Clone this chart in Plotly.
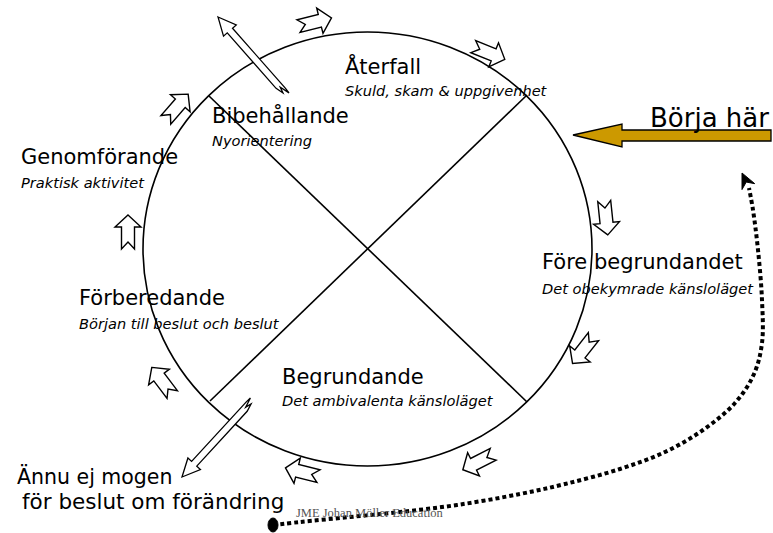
import math
import plotly.graph_objects as go

# ---------------- content ----------------
stage_titles = ["Återfall", "Bibehållande", "Genomförande", "Förberedande",
                "Begrundande", "Före begrundandet"]
stage_subtitles = ["Skuld, skam & uppgivenhet", "Nyorientering", "Praktisk aktivitet",
                   "Början till beslut och beslut", "Det ambivalenta känsloläget",
                   "Det obekymrade känsloläget"]
start_label = "Börja här"
exit_label = ["Ännu ej mogen", "för beslut om förändring"]
credit = "JME Johan Möller Education"

# ---------------- layout geometry (pixels) ----------------
W, H = 773, 533
FONT = "DejaVu Sans, Verdana, sans-serif"

title_pos = [(343, 66), (210, 115), (19, 157), (77, 298), (280, 377), (540, 262)]
sub_pos = [(343, 90), (210, 140), (19, 182), (77, 323), (280, 400), (540, 288)]

ellipse = dict(x0=143, x1=592, y0=32, y1=466)
chords = [((209, 96), (527, 402)), ((527, 95), (210, 401))]

# small hollow notched arrows around the circle: centre x, centre y, angle (deg, screen)
cycle_arrows = [(315, 22, -14), (489, 53, 22), (606, 218, 84), (583, 350, 128),
                (478, 462, 153), (302, 472, 194), (162, 381, 233), (128, 232, 270),
                (177, 107, 311)]

# long thin arrows (tail -> tip)
long_arrows = [((284, 92), (218, 17)), ((250, 403), (182, 477))]

# dotted return path
dotted_x = [273, 300, 350, 400, 457, 520, 565, 620, 665, 703, 735, 754, 762, 762, 758, 753, 749]
dotted_y = [525, 522, 517, 512, 505, 494, 484, 469, 452, 430, 403, 374, 343, 300, 250, 210, 188]


def to_path(pts):
    return "M " + " L ".join(f"{x:.2f},{y:.2f}" for x, y in pts) + " Z"


def block_arrow(cx, cy, ang, L=34, Wd=13, w=6.5, hl=12, notch=7):
    a = math.radians(ang)
    c, s = math.cos(a), math.sin(a)
    loc = [(L / 2, 0), (L / 2 - hl, Wd), (L / 2 - hl, w), (-L / 2, w),
           (-L / 2 + notch, 0), (-L / 2, -w), (L / 2 - hl, -w), (L / 2 - hl, -Wd)]
    return [(cx + px * c - py * s, cy + px * s + py * c) for px, py in loc]


def long_arrow(tail, tip, hl=18, Wd=8.5, w=3.5):
    dx, dy = tip[0] - tail[0], tip[1] - tail[1]
    L = math.hypot(dx, dy)
    ux, uy = dx / L, dy / L
    vx, vy = -uy, ux
    loc = [(L, 0), (L - hl, Wd), (L - hl, w), (2, w), (-4, w * 0.9),
           (6, 0.1 * w), (0, -0.4 * w), (8, -w), (L - hl, -w), (L - hl, -Wd)]
    return [(tail[0] + sa * ux + t * vx, tail[1] + sa * uy + t * vy) for sa, t in loc]


fig = go.Figure()

shapes = []
shapes.append(dict(type="circle", xref="x", yref="y", **ellipse,
                   line=dict(color="black", width=1.6)))
for (p, q) in chords:
    shapes.append(dict(type="line", xref="x", yref="y", x0=p[0], y0=p[1], x1=q[0], y1=q[1],
                       line=dict(color="black", width=1.6)))
for cx, cy, ang in cycle_arrows:
    shapes.append(dict(type="path", xref="x", yref="y", path=to_path(block_arrow(cx, cy, ang)),
                       fillcolor="white", line=dict(color="black", width=1.4)))
for tail, tip in long_arrows:
    shapes.append(dict(type="path", xref="x", yref="y", path=to_path(long_arrow(tail, tip)),
                       fillcolor="white", line=dict(color="black", width=1.3)))

# gold "start here" arrow
gold = [(573, 135), (622, 124), (622, 130), (771, 130), (771, 141), (622, 141), (622, 147)]
shapes.append(dict(type="path", xref="x", yref="y", path=to_path(gold),
                   fillcolor="#CC9900", line=dict(color="black", width=1.3)))

# dotted line start dot
shapes.append(dict(type="circle", xref="x", yref="y", x0=268, x1=278, y0=518, y1=532,
                   fillcolor="black", line=dict(color="black", width=1)))

# arrowhead at end of dotted path
tipx, tipy = 742, 173
bx, by = dotted_x[-1], dotted_y[-1]
d = math.hypot(tipx - bx, tipy - by)
ux, uy = (tipx - bx) / d, (tipy - by) / d
nx, ny = -uy, ux
head = [(tipx, tipy), (tipx - 15 * ux + 7 * nx, tipy - 15 * uy + 7 * ny),
        (tipx - 10 * ux, tipy - 10 * uy), (tipx - 15 * ux - 7 * nx, tipy - 15 * uy - 7 * ny)]
shapes.append(dict(type="path", xref="x", yref="y", path=to_path(head),
                   fillcolor="black", line=dict(color="black", width=1)))

fig.add_trace(go.Scatter(x=dotted_x, y=dotted_y, mode="lines",
                         line=dict(color="black", width=4, dash="4px,3px", shape="spline"),
                         hoverinfo="skip"))

ann = []
for t, (x, y) in zip(stage_titles, title_pos):
    ann.append(dict(x=x, y=y, text=t, xanchor="left", yanchor="middle", showarrow=False,
                    font=dict(family=FONT, size=21, color="black")))
for t, (x, y) in zip(stage_subtitles, sub_pos):
    ann.append(dict(x=x, y=y, text=f"<i>{t}</i>", xanchor="left", yanchor="middle",
                    showarrow=False, font=dict(family=FONT, size=14.6, color="black")))
ann.append(dict(x=648, y=118, text=start_label, xanchor="left", yanchor="middle",
                showarrow=False, font=dict(family=FONT, size=26, color="black")))
ann.append(dict(x=15, y=476, text=exit_label[0], xanchor="left", yanchor="middle",
                showarrow=False, font=dict(family=FONT, size=20.5, color="black")))
ann.append(dict(x=20, y=501, text=exit_label[1], xanchor="left", yanchor="middle",
                showarrow=False, font=dict(family=FONT, size=21.5, color="black")))
ann.append(dict(x=294, y=513, text=credit, xanchor="left", yanchor="middle",
                showarrow=False, font=dict(family="Liberation Serif, Times New Roman, serif",
                                           size=12.5, color="#555555")))

fig.update_layout(
    width=W, height=H, margin=dict(l=0, r=0, t=0, b=0),
    paper_bgcolor="white", plot_bgcolor="white", showlegend=False,
    xaxis=dict(range=[0, W], visible=False, fixedrange=True),
    yaxis=dict(range=[H, 0], visible=False, fixedrange=True),
    shapes=shapes, annotations=ann,
)
fig.write_html("out.html", config={"displayModeBar": False},
               post_script="document.body.style.margin='0';document.body.style.overflow='hidden';")
